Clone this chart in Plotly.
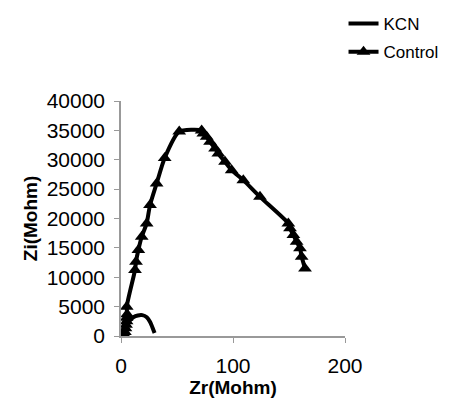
import plotly.graph_objects as go

# Data
kcn_zr = [3, 4, 6, 8, 11, 15, 19, 23, 26, 28, 30]
kcn_zi = [0, 1000, 2000, 2700, 3200, 3500, 3550, 3200, 2400, 1500, 500]

ctrl_zr = [3, 3.5, 4, 4.5, 5, 5, 5.5, 5.1, 12.5, 13.4, 15.5, 18.5, 22.9, 25.9,
           31.8, 39, 52, 72, 73.5, 76.5, 79.5, 84, 86.9, 92.9, 98.8, 109.2,
           124.1, 149.4, 150.9, 153.9, 156.8, 159.8, 161.3, 164.3]
ctrl_zi = [200, 700, 1300, 1900, 2500, 3100, 3700, 4980, 11220, 12640, 14630,
           16890, 19170, 22280, 25970, 30300, 34800, 35000, 34470, 33900, 33050,
           31920, 31070, 29640, 28230, 26530, 23690, 19170, 18320, 17180, 16040,
           14920, 13490, 11510]

x_ticks = [0, 100, 200]
y_ticks = [0, 5000, 10000, 15000, 20000, 25000, 30000, 35000, 40000]

FONT = "Liberation Sans, Arial"

fig = go.Figure()
fig.add_trace(go.Scatter(
    x=kcn_zr, y=kcn_zi, name="KCN", mode="lines", legendgroup="a",
    line=dict(color="black", width=4, shape="spline", smoothing=0.8),
))
fig.add_trace(go.Scatter(
    x=ctrl_zr, y=ctrl_zi, name="Control", mode="lines+markers", legendgroup="b",
    line=dict(color="black", width=4, shape="spline", smoothing=0.6),
    marker=dict(symbol="triangle-up", size=12, color="black"),
))

axis_common = dict(
    showgrid=False, zeroline=False, showline=True, linecolor="#999999",
    linewidth=1.5, ticks="outside", tickcolor="#999999", ticklen=5,
    ticklabelstandoff=5,
    tickfont=dict(family=FONT, size=21, color="black"),
)

fig.update_layout(
    width=455, height=400,
    margin=dict(l=121, r=110, t=101, b=64, autoexpand=False),
    paper_bgcolor="white", plot_bgcolor="white",
    xaxis=dict(range=[0, 200], tickvals=x_ticks, ticktext=[str(v) for v in x_ticks],
               automargin=False,
               title=dict(text="<b>Zr(Mohm)</b>", standoff=2,
                          font=dict(family=FONT, size=19, color="black")),
               **axis_common),
    yaxis=dict(range=[0, 40000], tickvals=y_ticks, ticktext=[str(v) for v in y_ticks],
               automargin=False,
               title=dict(text="<b>Zi(Mohm)</b>", standoff=4,
                          font=dict(family=FONT, size=19, color="black")),
               **axis_common),
    legend=dict(xref="container", yref="container", x=0.755, y=0.985,
                xanchor="left", yanchor="top",
                font=dict(family=FONT, size=17, color="black"),
                bgcolor="rgba(0,0,0,0)", tracegroupgap=3),
    showlegend=True,
)

fig.write_html("out.html")
